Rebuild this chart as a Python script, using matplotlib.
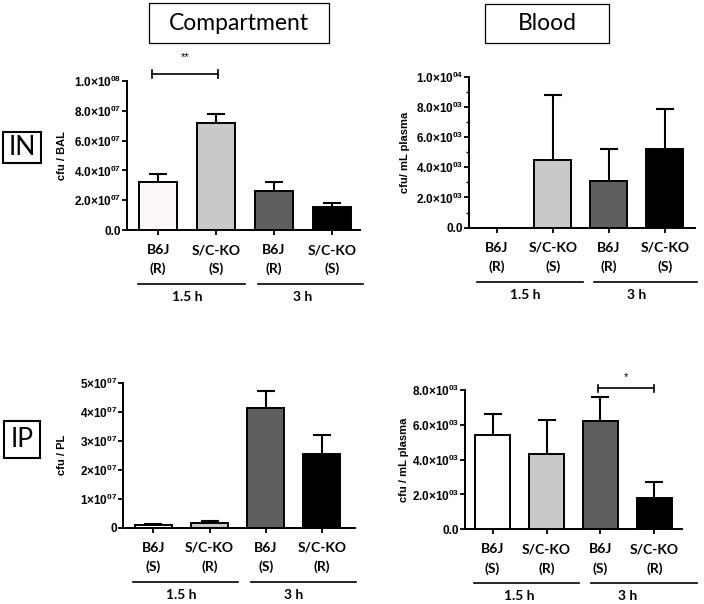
import numpy as np
import matplotlib
matplotlib.use("Agg")
import matplotlib.pyplot as plt
from matplotlib.patches import Rectangle
from matplotlib.transforms import offset_copy

plt.rcParams['mathtext.fontset'] = 'custom'
plt.rcParams['mathtext.rm'] = 'Liberation Sans'
plt.rcParams['mathtext.bf'] = 'Liberation Sans:bold'
plt.rcParams['font.family'] = ['Liberation Sans', 'DejaVu Sans']

# ---------------- data ----------------
groups = ["B6J", "S/C-KO", "B6J", "S/C-KO"]
times = ["1.5 h", "3 h"]
in_phenotype = ["(R)", "(S)", "(R)", "(S)"]
ip_phenotype = ["(S)", "(R)", "(S)", "(R)"]

in_comp_mean = [3.2e7, 7.15e7, 2.6e7, 1.55e7]
in_comp_sem = [0.56e7, 0.62e7, 0.60e7, 0.24e7]

in_blood_mean = [0, 4480, 3110, 5230]
in_blood_sem = [0, 4310, 2120, 2630]

ip_comp_mean = [1.0e6, 1.7e6, 4.12e7, 2.54e7]
ip_comp_sem = [0.4e6, 0.6e6, 0.60e7, 0.66e7]

ip_blood_mean = [5420, 4330, 6220, 1780]
ip_blood_sem = [1180, 1950, 1360, 920]

in_comp_ticks = [0, 2e7, 4e7, 6e7, 8e7, 1e8]
in_comp_ticklabels = ["0.0", "2.0×10^07", "4.0×10^07", "6.0×10^07", "8.0×10^07", "1.0×10^08"]
in_blood_ticks = [0, 2e3, 4e3, 6e3, 8e3, 1e4]
in_blood_ticklabels = ["0.0", "2.0×10^03", "4.0×10^03", "6.0×10^03", "8.0×10^03", "1.0×10^04"]
ip_comp_ticks = [0, 1e7, 2e7, 3e7, 4e7, 5e7]
ip_comp_ticklabels = ["0", "1×10^07", "2×10^07", "3×10^07", "4×10^07", "5×10^07"]
ip_blood_ticks = [0, 2e3, 4e3, 6e3, 8e3]
ip_blood_ticklabels = ["0.0", "2.0×10^03", "4.0×10^03", "6.0×10^03", "8.0×10^03"]

# ---------------- figure ----------------
W, H = 704, 604
fig = plt.figure(figsize=(W / 100, H / 100), dpi=100)


def rect(l, t, r, b):
    return [l / W, 1 - b / H, (r - l) / W, (b - t) / H]


def fmt_label(s):
    if "^" in s:
        base, exp = s.split("^")
        base = base.replace("×", r"{\times}")
        return r"$\mathbf{" + base + "^{" + exp + "}}$"
    return s


bar_colors = ["#ffffff", "#c9c9c9", "#5f5f5f", "#000000"]
LABEL_FONT = ['Lato', 'DejaVu Sans']


def panel(box, xlim, mean, sem, ticks, ticklabels, ylabel, ylabel_x, phen,
          first_color="#ffffff", minor=None, lines=None, sig=None):
    l, t, r, b = box
    ax = fig.add_axes(rect(l, t, r, b))
    x = np.arange(len(mean))
    cols = [first_color] + bar_colors[1:]
    ax.bar(x, mean, width=0.66, color=cols, edgecolor="black", linewidth=1.4, zorder=3)
    mean_a = np.array(mean, float)
    sem_a = np.array(sem, float)
    m = sem_a > 0
    eb = ax.errorbar(x[m], mean_a[m], yerr=[np.zeros(m.sum()), sem_a[m]], fmt='none',
                     ecolor="black", elinewidth=1.5, capsize=6.5, capthick=1.5, zorder=2)
    eb[1][0].set_visible(False)
    ax.set_xlim(*xlim)
    ax.set_ylim(ticks[0], ticks[-1])
    ax.set_yticks(ticks)
    ax.set_yticklabels([fmt_label(s) for s in ticklabels], fontsize=8.5, fontweight='bold')
    if minor is not None:
        ax.set_yticks(minor, minor=True)
        ax.tick_params(axis='y', which='minor', length=2, width=1.0)
    ax.set_xticks(x)
    ax.set_xticklabels([])
    ax.tick_params(axis='both', which='major', length=3.5, width=1.3, pad=0.5, direction='out')
    for s in ["top", "right"]:
        ax.spines[s].set_visible(False)
    for s in ["left", "bottom"]:
        ax.spines[s].set_linewidth(1.4)
    ax.patch.set_alpha(0)
    # y label
    fig.text(ylabel_x / W, 1 - ((t + b) / 2) / H, ylabel, rotation=90, ha='center', va='center',
             fontsize=8, fontweight='bold')
    # category labels
    base = ax.get_xaxis_transform()
    for i in range(len(groups)):
        tr1 = offset_copy(base, fig=fig, y=-20 * 0.72, units='points')
        ax.text(x[i], 0, groups[i], transform=tr1, ha='center', va='center',
                fontsize=10, fontweight='bold', family=LABEL_FONT, clip_on=False)
        tr2 = offset_copy(base, fig=fig, y=-39 * 0.72, units='points')
        ax.text(x[i], 0, phen[i], transform=tr2, ha='center', va='center',
                fontsize=10, fontweight='bold', family=LABEL_FONT, clip_on=False)
    tr3 = offset_copy(base, fig=fig, y=-54 * 0.72, units='points')
    tr4 = offset_copy(base, fig=fig, y=-67 * 0.72, units='points')
    for k, (x0, x1) in enumerate(lines):
        ax.plot([x0, x1], [0, 0], transform=tr3, color='black', lw=1.2, clip_on=False)
        ax.text((2 * k + 0.5), 0, times[k], transform=tr4, ha='center', va='center',
                fontsize=10, fontweight='bold', family=LABEL_FONT, clip_on=False)
    if sig is not None:
        txt, i0, i1, yb, yt, dx0, dx1 = sig
        tr = ax.get_xaxis_transform()
        xa, xb = x[i0] + dx0, x[i1] + dx1
        ax.plot([xa, xb], [yb, yb], transform=tr, color='black', lw=1.2, clip_on=False)
        h = 0.025
        ax.plot([xa, xa], [yb - h, yb + h], transform=tr, color='black', lw=1.2, clip_on=False)
        ax.plot([xb, xb], [yb - h, yb + h], transform=tr, color='black', lw=1.2, clip_on=False)
        ax.text((xa + xb) / 2, yt, txt, transform=tr, ha='center', va='center',
                fontsize=8, clip_on=False)
    return ax


panel((127, 81, 360, 230), (-0.54, 3.49), in_comp_mean, in_comp_sem, in_comp_ticks,
      in_comp_ticklabels, "cfu / BAL", 62, in_phenotype, first_color="#fdf8f8",
      lines=[(-0.35, 1.5), (1.73, 3.55)], sig=("**", 0, 1, 1.047, 1.16, -0.1, 0.03))

panel((469, 76.7, 695, 227.7), (-0.5, 3.54), in_blood_mean, in_blood_sem, in_blood_ticks,
      in_blood_ticklabels, "cfu/ mL plasma", 405, in_phenotype,
      minor=np.arange(0, 10001, 1000), lines=[(-0.36, 1.53), (1.73, 3.57)])

panel((123, 382.7, 355, 527.7), (-0.54, 3.59), ip_comp_mean, ip_comp_sem, ip_comp_ticks,
      ip_comp_ticklabels, "cfu / PL", 62, ip_phenotype,
      lines=[(-0.36, 1.5), (1.74, 3.6)])

panel((465, 390, 682, 529.3), (-0.51, 3.51), ip_blood_mean, ip_blood_sem, ip_blood_ticks,
      ip_blood_ticklabels, "cfu / mL plasma", 404, ip_phenotype,
      lines=[(-0.34, 1.6), (1.82, 3.79)], sig=("*", 2, 3, 1.012, 1.09, -0.04, 0.0))


def boxed(l, t, r, b, text, fs, lw):
    fig.add_artist(Rectangle((l / W, 1 - b / H), (r - l) / W, (b - t) / H,
                             transform=fig.transFigure, fill=False, edgecolor='black', linewidth=lw))
    fig.text((l + r) / 2 / W, 1 - (t + b) / 2 / H, text, ha='center', va='center',
             fontsize=fs, family=LABEL_FONT)


boxed(149, 3, 329, 43, "Compartment", 16.5, 0.9)
boxed(485, 4, 609, 43, "Blood", 16.5, 0.9)
boxed(3, 132, 41, 163, "IN", 19, 1.5)
boxed(4, 421, 40, 458, "IP", 19, 1.5)

fig.savefig("out.png", dpi=100)
